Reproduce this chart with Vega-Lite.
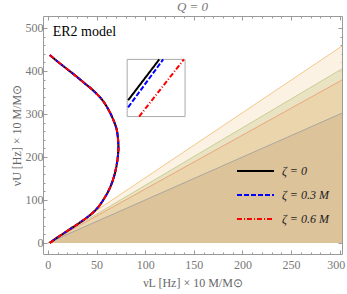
{
  "$schema": "https://vega.github.io/schema/vega-lite/v6.json",
  "width": 299,
  "height": 238,
  "autosize": "none",
  "padding": {"left": 43, "top": 16, "right": 5, "bottom": 40},
  "config": {"view": {"stroke": "#9a9a9a", "strokeWidth": 1}, "font": "Liberation Serif"},
  "title": {"text": "Q = 0", "font": "Liberation Serif", "fontSize": 13, "fontStyle": "italic", "fontWeight": "normal", "color": "#777777", "offset": 2},
  "datasets": {
    "wedges": [
      {"b": "b1", "x": 0, "y": 0}, {"b": "b1", "x": 302.3, "y": 458},
      {"b": "b2", "x": 0, "y": 0}, {"b": "b2", "x": 302.3, "y": 405},
      {"b": "b3", "x": 0, "y": 0}, {"b": "b3", "x": 302.3, "y": 379},
      {"b": "b4", "x": 0, "y": 0}, {"b": "b4", "x": 302.3, "y": 302}
    ],
    "curve": [
      {"s": "ζ = 0", "t": 1, "x": 2, "y": 437}, {"s": "ζ = 0", "t": 2, "x": 10.5, "y": 421}, {"s": "ζ = 0", "t": 3, "x": 20, "y": 404}, {"s": "ζ = 0", "t": 4, "x": 29.5, "y": 387}, {"s": "ζ = 0", "t": 5, "x": 38.5, "y": 370}, {"s": "ζ = 0", "t": 6, "x": 45.5, "y": 357}, {"s": "ζ = 0", "t": 7, "x": 51, "y": 345}, {"s": "ζ = 0", "t": 8, "x": 55.5, "y": 334}, {"s": "ζ = 0", "t": 9, "x": 59.5, "y": 321}, {"s": "ζ = 0", "t": 10, "x": 63, "y": 307}, {"s": "ζ = 0", "t": 11, "x": 67, "y": 288}, {"s": "ζ = 0", "t": 12, "x": 70.5, "y": 266}, {"s": "ζ = 0", "t": 13, "x": 72, "y": 244}, {"s": "ζ = 0", "t": 14, "x": 72.5, "y": 220}, {"s": "ζ = 0", "t": 15, "x": 71.5, "y": 193}, {"s": "ζ = 0", "t": 16, "x": 69.5, "y": 168}, {"s": "ζ = 0", "t": 17, "x": 66.5, "y": 144}, {"s": "ζ = 0", "t": 18, "x": 62.5, "y": 122}, {"s": "ζ = 0", "t": 19, "x": 58, "y": 104}, {"s": "ζ = 0", "t": 20, "x": 53, "y": 87}, {"s": "ζ = 0", "t": 21, "x": 47, "y": 72}, {"s": "ζ = 0", "t": 22, "x": 40, "y": 59}, {"s": "ζ = 0", "t": 23, "x": 32, "y": 46}, {"s": "ζ = 0", "t": 24, "x": 24, "y": 34}, {"s": "ζ = 0", "t": 25, "x": 16, "y": 22}, {"s": "ζ = 0", "t": 26, "x": 8, "y": 10}, {"s": "ζ = 0", "t": 27, "x": 2, "y": 0},
      {"s": "ζ = 0.3 M", "t": 1, "x": 2, "y": 437}, {"s": "ζ = 0.3 M", "t": 2, "x": 10.5, "y": 421}, {"s": "ζ = 0.3 M", "t": 3, "x": 20, "y": 404}, {"s": "ζ = 0.3 M", "t": 4, "x": 29.5, "y": 387}, {"s": "ζ = 0.3 M", "t": 5, "x": 38.5, "y": 370}, {"s": "ζ = 0.3 M", "t": 6, "x": 45.5, "y": 357}, {"s": "ζ = 0.3 M", "t": 7, "x": 51, "y": 345}, {"s": "ζ = 0.3 M", "t": 8, "x": 55.5, "y": 334}, {"s": "ζ = 0.3 M", "t": 9, "x": 59.5, "y": 321}, {"s": "ζ = 0.3 M", "t": 10, "x": 63, "y": 307}, {"s": "ζ = 0.3 M", "t": 11, "x": 67, "y": 288}, {"s": "ζ = 0.3 M", "t": 12, "x": 70.5, "y": 266}, {"s": "ζ = 0.3 M", "t": 13, "x": 72, "y": 244}, {"s": "ζ = 0.3 M", "t": 14, "x": 72.5, "y": 220}, {"s": "ζ = 0.3 M", "t": 15, "x": 71.5, "y": 193}, {"s": "ζ = 0.3 M", "t": 16, "x": 69.5, "y": 168}, {"s": "ζ = 0.3 M", "t": 17, "x": 66.5, "y": 144}, {"s": "ζ = 0.3 M", "t": 18, "x": 62.5, "y": 122}, {"s": "ζ = 0.3 M", "t": 19, "x": 58, "y": 104}, {"s": "ζ = 0.3 M", "t": 20, "x": 53, "y": 87}, {"s": "ζ = 0.3 M", "t": 21, "x": 47, "y": 72}, {"s": "ζ = 0.3 M", "t": 22, "x": 40, "y": 59}, {"s": "ζ = 0.3 M", "t": 23, "x": 32, "y": 46}, {"s": "ζ = 0.3 M", "t": 24, "x": 24, "y": 34}, {"s": "ζ = 0.3 M", "t": 25, "x": 16, "y": 22}, {"s": "ζ = 0.3 M", "t": 26, "x": 8, "y": 10}, {"s": "ζ = 0.3 M", "t": 27, "x": 2, "y": 0},
      {"s": "ζ = 0.6 M", "t": 1, "x": 2, "y": 437}, {"s": "ζ = 0.6 M", "t": 2, "x": 10.5, "y": 421}, {"s": "ζ = 0.6 M", "t": 3, "x": 20, "y": 404}, {"s": "ζ = 0.6 M", "t": 4, "x": 29.5, "y": 387}, {"s": "ζ = 0.6 M", "t": 5, "x": 38.5, "y": 370}, {"s": "ζ = 0.6 M", "t": 6, "x": 45.5, "y": 357}, {"s": "ζ = 0.6 M", "t": 7, "x": 51, "y": 345}, {"s": "ζ = 0.6 M", "t": 8, "x": 55.5, "y": 334}, {"s": "ζ = 0.6 M", "t": 9, "x": 59.5, "y": 321}, {"s": "ζ = 0.6 M", "t": 10, "x": 63, "y": 307}, {"s": "ζ = 0.6 M", "t": 11, "x": 67, "y": 288}, {"s": "ζ = 0.6 M", "t": 12, "x": 70.5, "y": 266}, {"s": "ζ = 0.6 M", "t": 13, "x": 72, "y": 244}, {"s": "ζ = 0.6 M", "t": 14, "x": 72.5, "y": 220}, {"s": "ζ = 0.6 M", "t": 15, "x": 71.5, "y": 193}, {"s": "ζ = 0.6 M", "t": 16, "x": 69.5, "y": 168}, {"s": "ζ = 0.6 M", "t": 17, "x": 66.5, "y": 144}, {"s": "ζ = 0.6 M", "t": 18, "x": 62.5, "y": 122}, {"s": "ζ = 0.6 M", "t": 19, "x": 58, "y": 104}, {"s": "ζ = 0.6 M", "t": 20, "x": 53, "y": 87}, {"s": "ζ = 0.6 M", "t": 21, "x": 47, "y": 72}, {"s": "ζ = 0.6 M", "t": 22, "x": 40, "y": 59}, {"s": "ζ = 0.6 M", "t": 23, "x": 32, "y": 46}, {"s": "ζ = 0.6 M", "t": 24, "x": 24, "y": 34}, {"s": "ζ = 0.6 M", "t": 25, "x": 16, "y": 22}, {"s": "ζ = 0.6 M", "t": 26, "x": 8, "y": 10}, {"s": "ζ = 0.6 M", "t": 27, "x": 2, "y": 0}
    ],
    "inset": [
      {"s": "ζ = 0", "t": 1, "x": 82.5, "y": 332}, {"s": "ζ = 0", "t": 2, "x": 114.5, "y": 427},
      {"s": "ζ = 0.3 M", "t": 1, "x": 82.5, "y": 315.6}, {"s": "ζ = 0.3 M", "t": 2, "x": 118.5, "y": 427},
      {"s": "ζ = 0.6 M", "t": 1, "x": 93.8, "y": 294}, {"s": "ζ = 0.6 M", "t": 2, "x": 139.8, "y": 427}
    ]
  },
  "layer": [
    {
      "data": {"name": "wedges"},
      "transform": [{"filter": "datum.b === 'b1'"}],
      "mark": {"type": "area", "clip": true, "color": "#F9ECD8", "line": {"color": "#F2C88C", "strokeWidth": 1}},
      "encoding": {
        "x": {"field": "x", "type": "quantitative", "scale": {"domain": [-5, 302.3], "nice": false, "zero": false},
          "axis": {"orient": "bottom", "values": [0,10,20,30,40,50,60,70,80,90,100,110,120,130,140,150,160,170,180,190,200,210,220,230,240,250,260,270,280,290,300],
            "tickSize": {"condition": {"test": "datum.value % 50 === 0", "value": -4}, "value": -2},
            "tickColor": "#9a9a9a", "domain": false, "grid": false, "labelOverlap": false, "labelFlush": 3, "labelFlushOffset": 5,
            "labelExpr": "datum.value % 50 === 0 ? datum.label : ''",
            "labelFont": "Liberation Serif", "labelFontSize": 12, "labelColor": "#777777", "labelPadding": 9,
            "title": "νL [Hz] × 10 M/M⊙", "titleFont": "Liberation Serif", "titleFontSize": 12, "titleFontWeight": "normal", "titleColor": "#666666", "titlePadding": 5}},
        "y": {"field": "y", "type": "quantitative", "scale": {"domain": [-25.6, 527.9], "nice": false, "zero": false},
          "axis": {"orient": "left", "values": [0,20,40,60,80,100,120,140,160,180,200,220,240,260,280,300,320,340,360,380,400,420,440,460,480,500],
            "tickSize": {"condition": {"test": "datum.value % 100 === 0", "value": -4}, "value": -2},
            "tickColor": "#9a9a9a", "domain": false, "grid": false, "labelOverlap": false, "labelFlush": false,
            "labelExpr": "datum.value % 100 === 0 ? datum.label : ''",
            "labelFont": "Liberation Serif", "labelFontSize": 12, "labelColor": "#777777", "labelPadding": 4,
            "title": "νU [Hz] × 10 M/M⊙", "titleFont": "Liberation Serif", "titleFontSize": 12, "titleFontWeight": "normal", "titleColor": "#666666", "titlePadding": 2}},
        "y2": {"datum": 0}
      }
    },
    {
      "data": {"name": "wedges"},
      "transform": [{"filter": "datum.b === 'b2'"}],
      "mark": {"type": "area", "clip": true, "color": "#E3DDB5", "line": {"color": "#C8CF92", "strokeWidth": 1}},
      "encoding": {
        "x": {"field": "x", "type": "quantitative", "scale": {"domain": [-5, 302.3], "nice": false, "zero": false},
          "axis": {"orient": "top", "values": [0,10,20,30,40,50,60,70,80,90,100,110,120,130,140,150,160,170,180,190,200,210,220,230,240,250,260,270,280,290,300],
            "tickSize": {"condition": {"test": "datum.value % 50 === 0", "value": -4}, "value": -2},
            "tickColor": "#9a9a9a", "domain": false, "grid": false, "labels": false, "title": null}},
        "y": {"field": "y", "type": "quantitative", "scale": {"domain": [-25.6, 527.9], "nice": false, "zero": false},
          "axis": {"orient": "right", "values": [0,20,40,60,80,100,120,140,160,180,200,220,240,260,280,300,320,340,360,380,400,420,440,460,480,500],
            "tickSize": {"condition": {"test": "datum.value % 100 === 0", "value": -4}, "value": -2},
            "tickColor": "#9a9a9a", "domain": false, "grid": false, "labels": false, "title": null}},
        "y2": {"datum": 0}
      }
    },
    {
      "data": {"name": "wedges"},
      "transform": [{"filter": "datum.b === 'b3'"}],
      "mark": {"type": "area", "clip": true, "color": "#EBCEA3", "line": {"color": "#EAA67C", "strokeWidth": 1}},
      "encoding": {
        "x": {"field": "x", "type": "quantitative", "axis": null},
        "y": {"field": "y", "type": "quantitative", "axis": null},
        "y2": {"datum": 0}
      }
    },
    {
      "data": {"name": "wedges"},
      "transform": [{"filter": "datum.b === 'b4'"}],
      "mark": {"type": "area", "clip": true, "color": "#D6BB93", "line": {"color": "#A9A69E", "strokeWidth": 1}},
      "encoding": {
        "x": {"field": "x", "type": "quantitative", "axis": null},
        "y": {"field": "y", "type": "quantitative", "axis": null},
        "y2": {"datum": 0}
      }
    },
    {
      "data": {"values": [{}]},
      "mark": {"type": "rect", "fill": "white", "stroke": "#aaaaaa", "strokeWidth": 1},
      "encoding": {
        "x": {"datum": 81.5, "type": "quantitative", "axis": null},
        "x2": {"datum": 141},
        "y": {"datum": 294, "type": "quantitative", "axis": null},
        "y2": {"datum": 427}
      }
    },
    {
      "data": {"name": "inset"},
      "mark": {"type": "line", "strokeWidth": 2},
      "encoding": {
        "x": {"field": "x", "type": "quantitative", "axis": null},
        "y": {"field": "y", "type": "quantitative", "axis": null},
        "order": {"field": "t"},
        "color": {"field": "s", "type": "nominal"},
        "strokeDash": {"field": "s", "type": "nominal"}
      }
    },
    {
      "data": {"name": "curve"},
      "transform": [{"filter": "datum.s === 'ζ = 0'"}],
      "mark": {"type": "line", "strokeWidth": 2, "clip": true, "interpolate": "catmull-rom"},
      "encoding": {
        "x": {"field": "x", "type": "quantitative", "axis": null},
        "y": {"field": "y", "type": "quantitative", "axis": null},
        "order": {"field": "t"},
        "color": {"field": "s", "type": "nominal",
          "scale": {"domain": ["ζ = 0", "ζ = 0.3 M", "ζ = 0.6 M"], "range": ["#000000", "#0000ff", "#ff0000"]},
          "legend": {"orient": "none", "legendX": 193, "legendY": 143, "title": null, "symbolType": "stroke", "symbolSize": 1369, "symbolStrokeWidth": 2, "labelFont": "Liberation Serif", "labelFontSize": 12, "labelFontStyle": "italic", "labelColor": "#222222", "labelOffset": 7, "clipHeight": 24, "rowPadding": 0, "padding": 0}},
        "strokeDash": {"field": "s", "type": "nominal",
          "scale": {"domain": ["ζ = 0", "ζ = 0.3 M", "ζ = 0.6 M"], "range": [[1, 0], [5, 2], [5, 2, 1, 2]]},
          "legend": {"orient": "none", "legendX": 193, "legendY": 143, "title": null, "symbolType": "stroke", "symbolSize": 1369, "symbolStrokeWidth": 2, "labelFont": "Liberation Serif", "labelFontSize": 12, "labelFontStyle": "italic", "labelColor": "#222222", "labelOffset": 7, "clipHeight": 24, "rowPadding": 0, "padding": 0}}
      }
    },
    {
      "data": {"name": "curve"},
      "transform": [{"filter": "datum.s === 'ζ = 0.3 M'"}],
      "mark": {"type": "line", "strokeWidth": 2, "clip": true, "interpolate": "catmull-rom"},
      "encoding": {
        "x": {"field": "x", "type": "quantitative", "axis": null},
        "y": {"field": "y", "type": "quantitative", "axis": null},
        "order": {"field": "t"},
        "color": {"field": "s", "type": "nominal"},
        "strokeDash": {"field": "s", "type": "nominal"}
      }
    },
    {
      "data": {"name": "curve"},
      "transform": [{"filter": "datum.s === 'ζ = 0.6 M'"}],
      "mark": {"type": "line", "strokeWidth": 2, "clip": true, "interpolate": "catmull-rom"},
      "encoding": {
        "x": {"field": "x", "type": "quantitative", "axis": null},
        "y": {"field": "y", "type": "quantitative", "axis": null},
        "order": {"field": "t"},
        "color": {"field": "s", "type": "nominal"},
        "strokeDash": {"field": "s", "type": "nominal"}
      }
    },
    {
      "data": {"values": [{}]},
      "mark": {"type": "text", "text": "ER2 model", "align": "left", "baseline": "middle", "font": "Liberation Serif", "fontSize": 14, "color": "#000000"},
      "encoding": {
        "x": {"datum": 5, "type": "quantitative", "axis": null},
        "y": {"datum": 490, "type": "quantitative", "axis": null}
      }
    }
  ],
  "resolve": {"axis": {"x": "independent", "y": "independent"}}
}
